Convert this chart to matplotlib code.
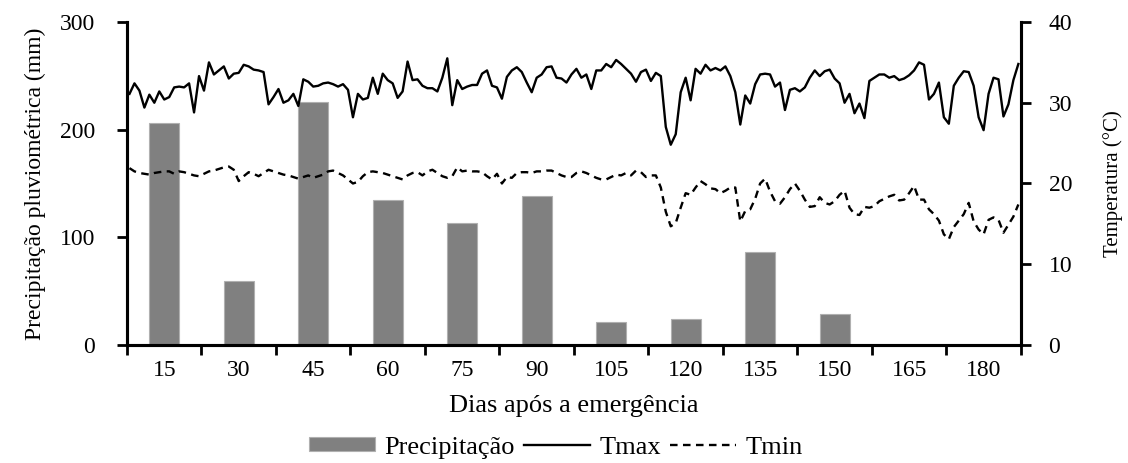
import numpy as np
import matplotlib
matplotlib.use("Agg")
import matplotlib.pyplot as plt

plt.rcParams['font.family'] = ['Liberation Serif', 'DejaVu Serif']

# precipitação acumulada por período de 15 dias (mm)
periodos = ["15", "30", "45", "60", "75", "90", "105", "120", "135", "150", "165", "180"]
precipitacao = [206, 59, 226, 135, 113, 138, 21, 24, 86, 29]

# temperaturas diárias (°C)
tmax = [31.1, 32.4, 31.5, 29.4, 31.0, 30.0, 31.4, 30.4, 30.7, 31.9,
        32.0, 31.9, 32.4, 28.8, 33.3, 31.5, 35.0, 33.5, 34.0, 34.5,
        33.0, 33.6, 33.7, 34.7, 34.5, 34.1, 34.0, 33.8, 29.8, 30.7,
        31.7, 30.0, 30.3, 31.1, 29.6, 32.9, 32.6, 32.0, 32.1, 32.4,
        32.5, 32.3, 32.0, 32.3, 31.6, 28.2, 31.1, 30.4, 30.6, 33.1,
        31.1, 33.6, 32.8, 32.4, 30.6, 31.4, 35.1, 32.8, 32.9, 32.1,
        31.8, 31.8, 31.4, 33.1, 35.5, 29.7, 32.8, 31.7, 32.0, 32.2,
        32.2, 33.6, 34.0, 32.1, 31.9, 30.5, 33.2, 34.0, 34.4, 33.8,
        32.5, 31.3, 33.1, 33.5, 34.4, 34.5, 33.1, 33.0, 32.5, 33.5,
        34.2, 33.1, 33.5, 31.7, 34.0, 34.0, 34.8, 34.4, 35.3, 34.8,
        34.2, 33.6, 32.6, 33.8, 34.1, 32.7, 33.7, 33.3, 27.0, 24.8,
        26.1, 31.3, 33.1, 30.3, 34.2, 33.6, 34.7, 34.0, 34.3, 34.0,
        34.5, 33.3, 31.3, 27.3, 30.9, 29.9, 32.3, 33.5, 33.6, 33.5,
        32.0, 32.5, 29.1, 31.6, 31.8, 31.4, 31.9, 33.1, 34.0, 33.3,
        33.9, 34.1, 33.0, 32.4, 30.0, 31.1, 28.7, 29.9, 28.1, 32.7,
        33.1, 33.5, 33.5, 33.1, 33.3, 32.8, 33.0, 33.4, 34.0, 35.0,
        34.7, 30.4, 31.1, 32.5, 28.2, 27.4, 32.1, 33.1, 33.9, 33.8,
        32.1, 28.2, 26.6, 31.1, 33.1, 32.9, 28.3, 29.8, 32.8, 34.8]

tmin = [21.9, 21.5, 21.3, 21.2, 21.1, 21.3, 21.4, 21.5, 21.5, 21.2,
        21.5, 21.4, 21.2, 21.0, 20.9, 21.2, 21.5, 21.6, 21.8, 22.0,
        22.1, 21.7, 20.3, 20.9, 21.4, 21.2, 20.9, 21.3, 21.7, 21.5,
        21.3, 21.1, 21.0, 20.8, 20.6, 20.8, 21.0, 20.7, 20.9, 21.1,
        21.5, 21.6, 21.3, 21.0, 20.5, 20.0, 20.2, 20.9, 21.4, 21.5,
        21.4, 21.3, 21.1, 20.9, 20.7, 20.5, 21.0, 21.3, 21.4, 21.0,
        21.5, 21.7, 21.3, 20.9, 20.7, 20.9, 22.0, 21.5, 21.6, 21.5,
        21.5, 21.4, 20.9, 20.5, 21.2, 20.0, 20.8, 20.7, 21.3, 21.4,
        21.4, 21.3, 21.5, 21.5, 21.6, 21.6, 21.3, 21.0, 20.8, 20.8,
        21.3, 21.5, 21.3, 21.0, 20.7, 20.5, 20.5, 20.8, 21.1, 21.0,
        21.3, 21.0, 21.6, 21.4, 20.8, 21.0, 21.0, 19.5, 16.5, 14.7,
        15.1, 17.0, 18.8, 18.6, 19.5, 20.3, 19.9, 19.4, 19.3, 18.8,
        19.1, 19.5, 19.5, 15.3, 16.6, 16.8, 18.1, 20.0, 20.6, 19.0,
        17.8, 17.5, 18.3, 19.3, 20.0, 19.1, 18.0, 17.1, 17.2, 18.3,
        17.6, 17.4, 17.8, 18.6, 19.1, 17.0, 16.2, 16.1, 17.1, 17.0,
        17.2, 17.8, 18.1, 18.4, 18.6, 17.9, 18.0, 18.8, 19.7, 18.0,
        18.0, 16.8, 16.2, 15.4, 13.7, 13.1, 14.6, 15.4, 16.2, 17.6,
        15.3, 14.3, 13.7, 15.5, 15.8, 15.5, 13.9, 14.9, 15.9, 17.4]

dias = np.arange(len(tmax)) + 0.5
centros = np.arange(len(periodos)) * 15 + 7.5

fig = plt.figure(figsize=(11.28, 4.63), dpi=100)
ax = fig.add_axes([0.1126, 0.2549, 0.7924, 0.6976])
ax2 = ax.twinx()

barras = ax.bar(centros[:len(precipitacao)], precipitacao, width=6.0,
                color='#808080', edgecolor='#b0b0b0', linewidth=0.8,
                label='Precipitação', zorder=1)
l1, = ax2.plot(dias, tmax, color='black', lw=1.7, label='Tmax')
l2, = ax2.plot(dias, tmin, color='black', lw=1.7, ls=(0, (3.2, 2.3)), label='Tmin')

ax.set_xlim(0, 180)
ax.set_ylim(0, 300)
ax2.set_ylim(0, 40)
ax.set_yticks([0, 100, 200, 300])
ax2.set_yticks([0, 10, 20, 30, 40])

ax.set_xticks(np.arange(0, 181, 15))
ax.set_xticklabels([])
ax.set_xticks(centros, minor=True)
ax.set_xticklabels(periodos, minor=True)
ax.tick_params(axis='x', which='major', direction='out', length=7, width=2)
ax.tick_params(axis='x', which='minor', length=0, pad=11, labelsize=17)
ax.tick_params(axis='y', direction='out', length=7, width=2, labelsize=17, pad=16)
ax2.tick_params(axis='y', direction='out', length=7, width=2, labelsize=17, pad=13)

for a in (ax, ax2):
    a.spines['top'].set_visible(False)
    for s in ('left', 'right', 'bottom'):
        a.spines[s].set_linewidth(2.2)

ax.set_ylabel('Precipitação pluviométrica (mm)', fontsize=17, labelpad=10)
ax2.set_ylabel('Temperatura (°C)', fontsize=15, labelpad=22)
ax.set_xlabel('Dias após a emergência', fontsize=19, labelpad=10)

fig.legend([barras, l1, l2], ['Precipitação', 'Tmax', 'Tmin'],
           loc='center', bbox_to_anchor=(0.493, 0.033), ncol=3, frameon=False,
           fontsize=19, handlelength=2.5, handleheight=0.45,
           handletextpad=0.35, columnspacing=0.35)

fig.savefig('out.png', dpi=100)
